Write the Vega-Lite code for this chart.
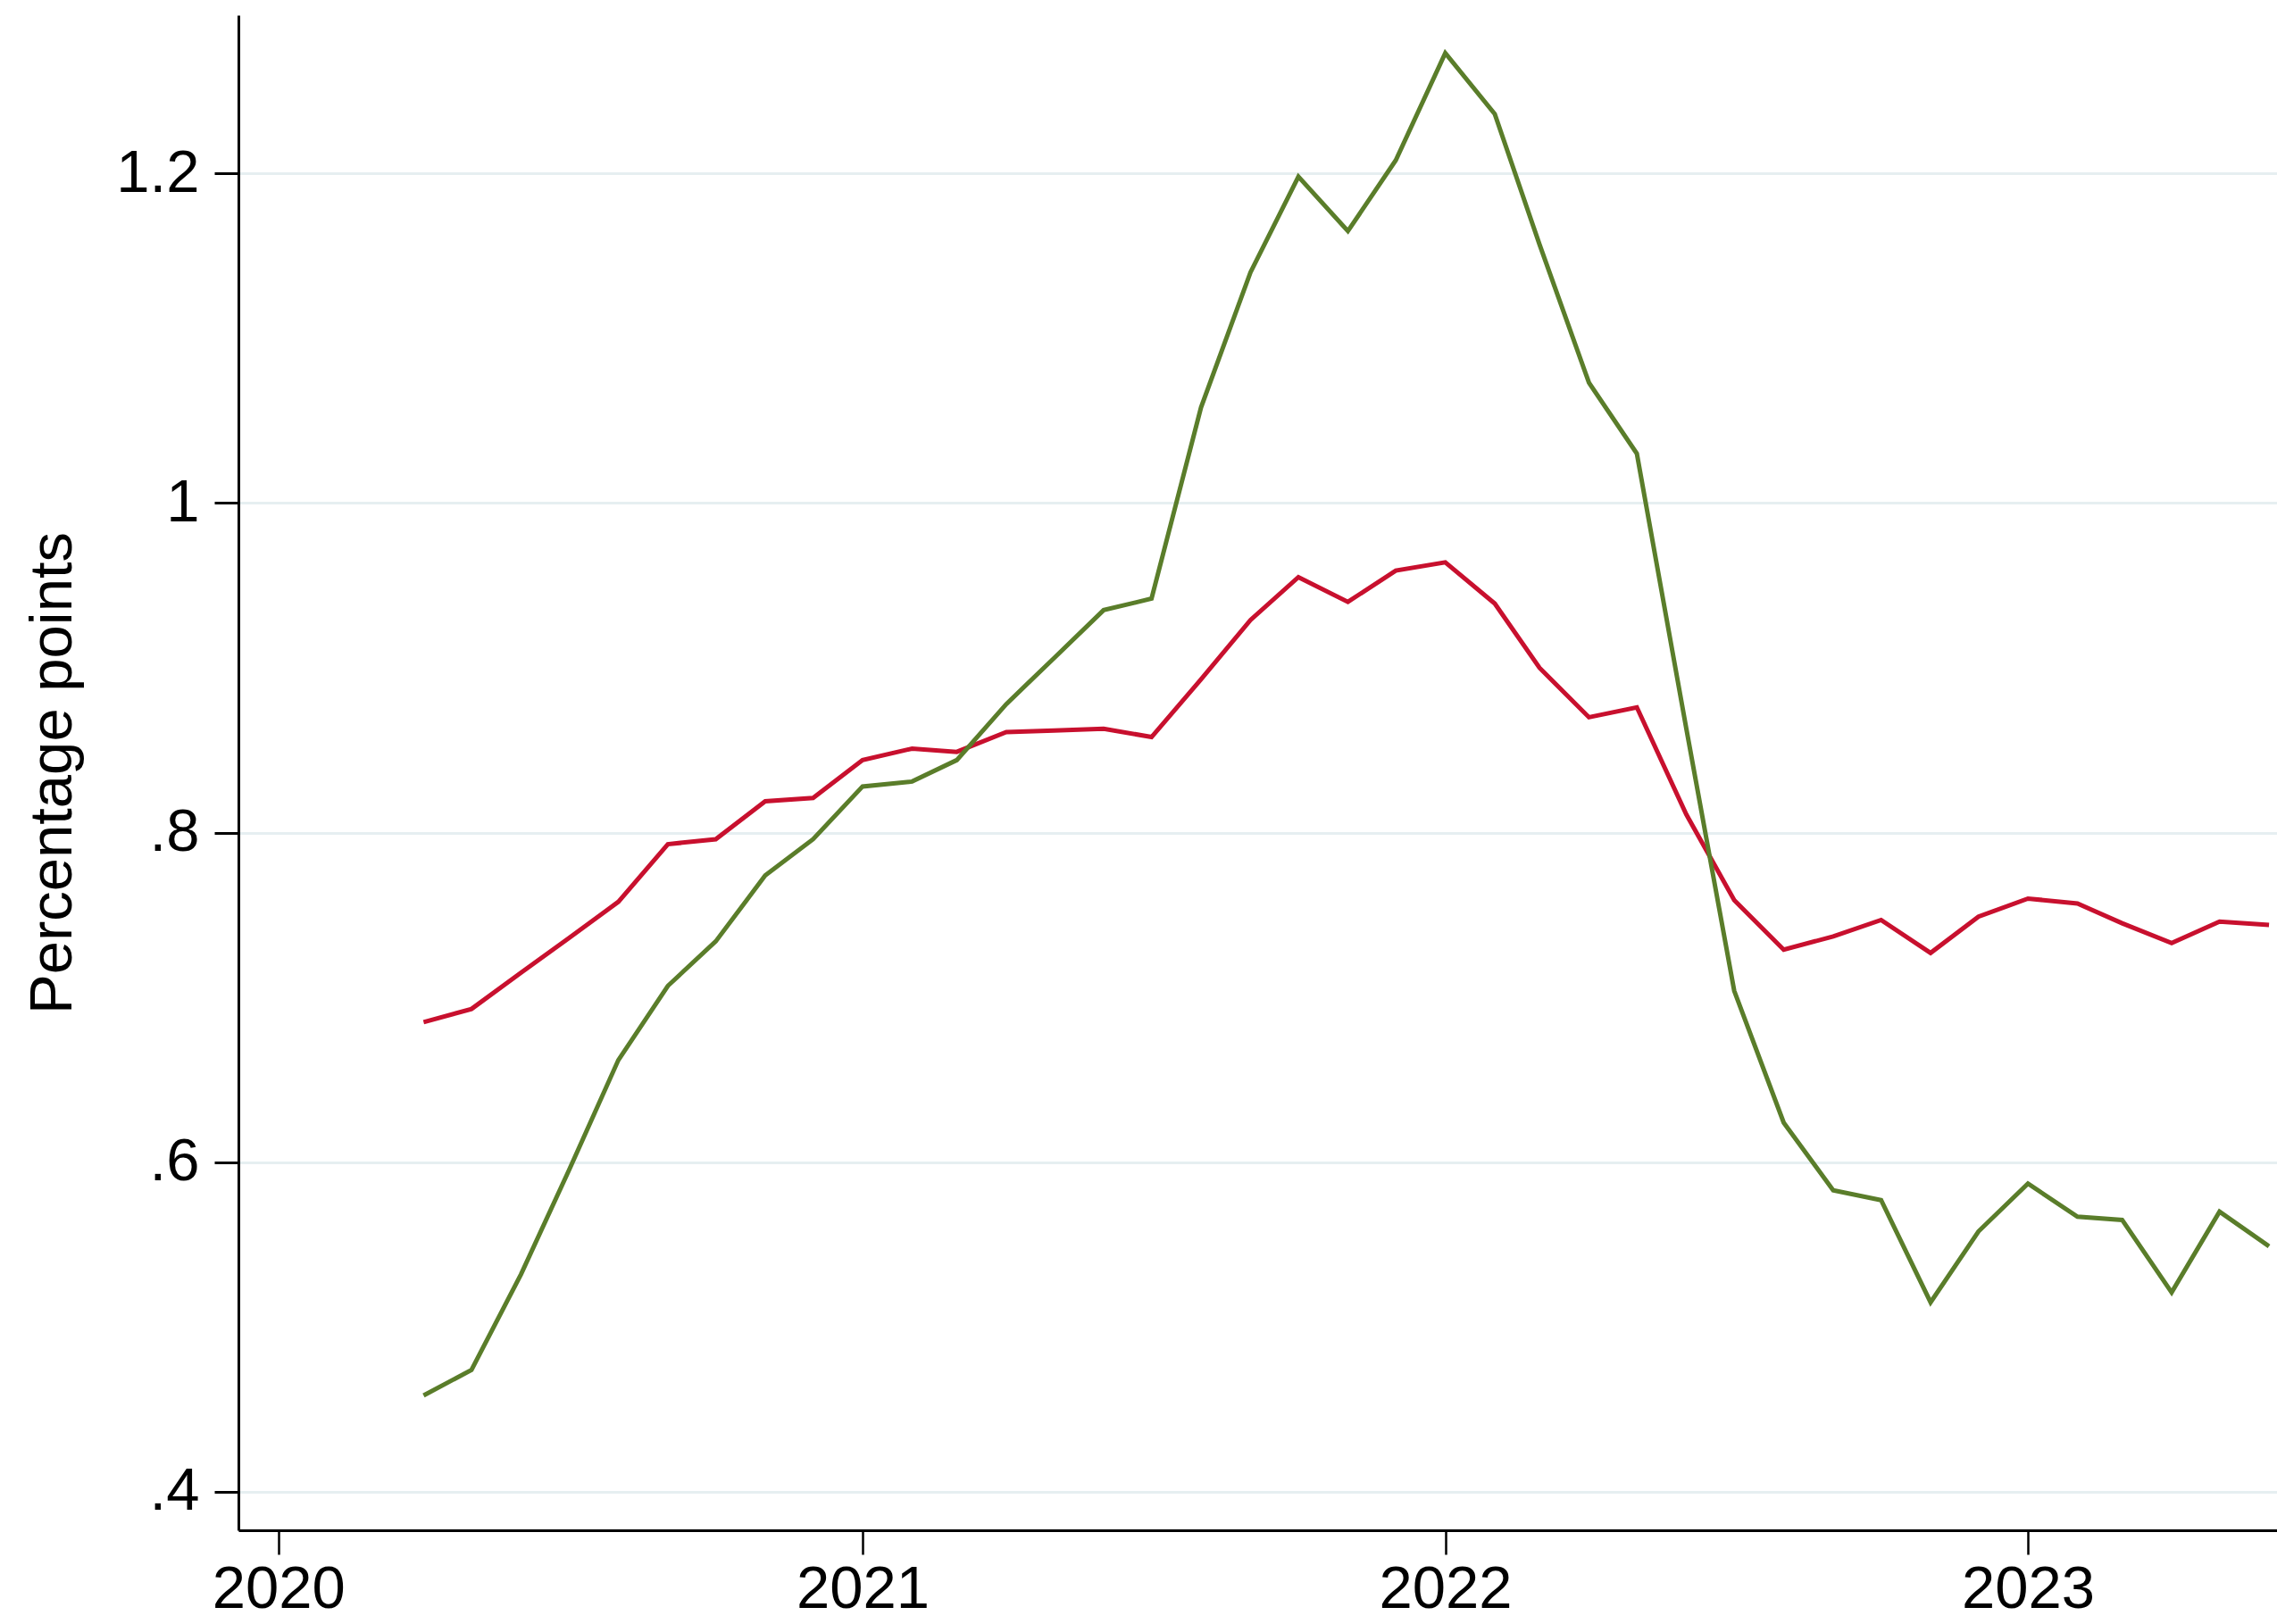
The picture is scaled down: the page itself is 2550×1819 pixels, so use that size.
{
  "$schema": "https://vega.github.io/schema/vega-lite/v6.json",
  "autosize": {"type": "none"},
  "padding": {"left": 267, "top": 17, "right": 0, "bottom": 105},
  "width": 2283,
  "height": 1697,
  "background": "white",
  "config": {
    "view": {"stroke": null},
    "font": "Liberation Sans"
  },
  "data": {
    "values": [
      {"date": "2020-04-01", "series": "A", "value": 0.685},
      {"date": "2020-05-01", "series": "A", "value": 0.693},
      {"date": "2020-06-01", "series": "A", "value": 0.715},
      {"date": "2020-07-01", "series": "A", "value": 0.736},
      {"date": "2020-08-01", "series": "A", "value": 0.758},
      {"date": "2020-09-01", "series": "A", "value": 0.793},
      {"date": "2020-10-01", "series": "A", "value": 0.796},
      {"date": "2020-11-01", "series": "A", "value": 0.819},
      {"date": "2020-12-01", "series": "A", "value": 0.821},
      {"date": "2021-01-01", "series": "A", "value": 0.844},
      {"date": "2021-02-01", "series": "A", "value": 0.851},
      {"date": "2021-03-01", "series": "A", "value": 0.849},
      {"date": "2021-04-01", "series": "A", "value": 0.861},
      {"date": "2021-05-01", "series": "A", "value": 0.862},
      {"date": "2021-06-01", "series": "A", "value": 0.863},
      {"date": "2021-07-01", "series": "A", "value": 0.858},
      {"date": "2021-08-01", "series": "A", "value": 0.893},
      {"date": "2021-09-01", "series": "A", "value": 0.929},
      {"date": "2021-10-01", "series": "A", "value": 0.955},
      {"date": "2021-11-01", "series": "A", "value": 0.940},
      {"date": "2021-12-01", "series": "A", "value": 0.959},
      {"date": "2022-01-01", "series": "A", "value": 0.964},
      {"date": "2022-02-01", "series": "A", "value": 0.939},
      {"date": "2022-03-01", "series": "A", "value": 0.900},
      {"date": "2022-04-01", "series": "A", "value": 0.870},
      {"date": "2022-05-01", "series": "A", "value": 0.876},
      {"date": "2022-06-01", "series": "A", "value": 0.811},
      {"date": "2022-07-01", "series": "A", "value": 0.759},
      {"date": "2022-08-01", "series": "A", "value": 0.729},
      {"date": "2022-09-01", "series": "A", "value": 0.737},
      {"date": "2022-10-01", "series": "A", "value": 0.747},
      {"date": "2022-11-01", "series": "A", "value": 0.727},
      {"date": "2022-12-01", "series": "A", "value": 0.749},
      {"date": "2023-01-01", "series": "A", "value": 0.760},
      {"date": "2023-02-01", "series": "A", "value": 0.757},
      {"date": "2023-03-01", "series": "A", "value": 0.745},
      {"date": "2023-04-01", "series": "A", "value": 0.733},
      {"date": "2023-05-01", "series": "A", "value": 0.746},
      {"date": "2023-06-01", "series": "A", "value": 0.744},
      {"date": "2020-04-01", "series": "B", "value": 0.4585},
      {"date": "2020-05-01", "series": "B", "value": 0.474},
      {"date": "2020-06-01", "series": "B", "value": 0.532},
      {"date": "2020-07-01", "series": "B", "value": 0.595},
      {"date": "2020-08-01", "series": "B", "value": 0.662},
      {"date": "2020-09-01", "series": "B", "value": 0.707},
      {"date": "2020-10-01", "series": "B", "value": 0.734},
      {"date": "2020-11-01", "series": "B", "value": 0.774},
      {"date": "2020-12-01", "series": "B", "value": 0.796},
      {"date": "2021-01-01", "series": "B", "value": 0.828},
      {"date": "2021-02-01", "series": "B", "value": 0.831},
      {"date": "2021-03-01", "series": "B", "value": 0.844},
      {"date": "2021-04-01", "series": "B", "value": 0.878},
      {"date": "2021-05-01", "series": "B", "value": 0.906},
      {"date": "2021-06-01", "series": "B", "value": 0.935},
      {"date": "2021-07-01", "series": "B", "value": 0.942},
      {"date": "2021-08-01", "series": "B", "value": 1.058},
      {"date": "2021-09-01", "series": "B", "value": 1.140},
      {"date": "2021-10-01", "series": "B", "value": 1.198},
      {"date": "2021-11-01", "series": "B", "value": 1.165},
      {"date": "2021-12-01", "series": "B", "value": 1.208},
      {"date": "2022-01-01", "series": "B", "value": 1.273},
      {"date": "2022-02-01", "series": "B", "value": 1.236},
      {"date": "2022-03-01", "series": "B", "value": 1.157},
      {"date": "2022-04-01", "series": "B", "value": 1.073},
      {"date": "2022-05-01", "series": "B", "value": 1.030},
      {"date": "2022-06-01", "series": "B", "value": 0.863},
      {"date": "2022-07-01", "series": "B", "value": 0.704},
      {"date": "2022-08-01", "series": "B", "value": 0.624},
      {"date": "2022-09-01", "series": "B", "value": 0.583},
      {"date": "2022-10-01", "series": "B", "value": 0.577},
      {"date": "2022-11-01", "series": "B", "value": 0.515},
      {"date": "2022-12-01", "series": "B", "value": 0.558},
      {"date": "2023-01-01", "series": "B", "value": 0.587},
      {"date": "2023-02-01", "series": "B", "value": 0.567},
      {"date": "2023-03-01", "series": "B", "value": 0.565},
      {"date": "2023-04-01", "series": "B", "value": 0.521},
      {"date": "2023-05-01", "series": "B", "value": 0.570},
      {"date": "2023-06-01", "series": "B", "value": 0.549}
    ]
  },
  "mark": {"type": "line", "strokeWidth": 5, "strokeJoin": "miter", "clip": true},
  "encoding": {
    "x": {
      "field": "date",
      "type": "temporal",
      "scale": {
        "type": "utc",
        "domain": [
          {"year": 2019, "month": 12, "date": 7, "utc": true},
          {"year": 2023, "month": 6, "date": 6, "utc": true}
        ],
        "nice": false
      },
      "axis": {
        "title": null,
        "values": [
          {"year": 2020, "month": 1, "date": 1, "utc": true},
          {"year": 2021, "month": 1, "date": 1, "utc": true},
          {"year": 2022, "month": 1, "date": 1, "utc": true},
          {"year": 2023, "month": 1, "date": 1, "utc": true}
        ],
        "format": "%Y",
        "grid": false,
        "domainColor": "#000000",
        "domainWidth": 3,
        "tickColor": "#000000",
        "tickWidth": 2.5,
        "tickSize": 27,
        "labelFont": "Liberation Sans",
        "labelFontSize": 67,
        "labelColor": "#000000",
        "labelPadding": 6,
        "labelFlush": false,
        "labelOverlap": false
      }
    },
    "y": {
      "field": "value",
      "type": "quantitative",
      "scale": {"domain": [0.3767, 1.296], "nice": false, "zero": false},
      "axis": {
        "title": "Percentage points",
        "titleFont": "Liberation Sans",
        "titleFontSize": 67,
        "titleFontWeight": "normal",
        "titleColor": "#000000",
        "titlePadding": 36,
        "values": [0.4, 0.6, 0.8, 1.0, 1.2],
        "labelExpr": "datum.value < 0.99 ? slice(format(datum.value, '.1f'), 1) : (abs(datum.value - 1) < 0.01 ? '1' : format(datum.value, '.1f'))",
        "grid": true,
        "gridColor": "#E6EFF1",
        "gridWidth": 3,
        "domainColor": "#000000",
        "domainWidth": 3,
        "tickColor": "#000000",
        "tickWidth": 3,
        "tickSize": 27,
        "labelFont": "Liberation Sans",
        "labelFontSize": 67,
        "labelColor": "#000000",
        "labelPadding": 17,
        "labelFlush": false,
        "labelOverlap": false
      }
    },
    "color": {
      "field": "series",
      "type": "nominal",
      "scale": {"domain": ["A", "B"], "range": ["#C8102E", "#5A7D2A"]},
      "legend": null
    }
  }
}
